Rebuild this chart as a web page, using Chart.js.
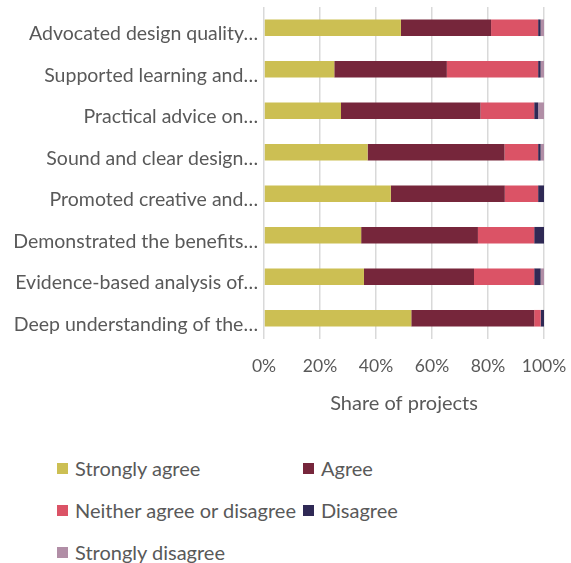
<!DOCTYPE html>
<html>
<head>
<meta charset="utf-8">
<script src="https://cdn.jsdelivr.net/npm/chart.js@4/dist/chart.umd.min.js"></script>
<style>
  html, body { margin: 0; padding: 0; background: #fff; }
  #wrap { position: relative; width: 571px; height: 563px; }
  #chartBox { position: absolute; left: 0; top: 0; width: 571px; height: 425px; }
  #legend {
    position: absolute; left: 57px; top: 456px;
    display: grid; grid-template-columns: 246px 200px; grid-auto-rows: 42px;
    font-family: Lato, "Open Sans", sans-serif; font-size: 20px; color: #595959;
  }
  #legend .item { display: flex; align-items: center; height: 24px; white-space: nowrap; }
  #legend .box { width: 11px; height: 11px; margin-right: 7px; flex: none; }
</style>
</head>
<body>
<div id="wrap">
  <div id="chartBox"><canvas id="surveyChart"></canvas></div>
  <div id="legend"></div>
</div>
<script>
(function () {
    const categories = [
        'Advocated design quality…',
        'Supported learning and…',
        'Practical advice on…',
        'Sound and clear design…',
        'Promoted creative and…',
        'Demonstrated the benefits…',
        'Evidence-based analysis of…',
        'Deep understanding of the…',
    ];

    // share of projects (%) per response
    const stronglyAgree = [48.9, 25.1, 27.5, 37.0, 45.3, 34.7, 35.7, 52.6];
    const agree = [32.2, 40.2, 49.8, 48.9, 40.7, 41.7, 39.3, 43.9];
    const neither = [16.8, 32.6, 19.2, 12.0, 11.9, 20.1, 21.5, 2.3];
    const disagree = [0.9, 0.9, 1.4, 0.9, 2.1, 3.5, 2.3, 1.2];
    const stronglyDisagree = [1.2, 1.2, 2.1, 1.2, 0, 0, 1.2, 0];

    const xTicks = [0, 20, 40, 60, 80, 100];

    const series = [
        { label: 'Strongly agree', data: stronglyAgree, color: '#CCBF53' },
        { label: 'Agree', data: agree, color: '#76263B' },
        { label: 'Neither agree or disagree', data: neither, color: '#DB5366' },
        { label: 'Disagree', data: disagree, color: '#2F2955' },
        { label: 'Strongly disagree', data: stronglyDisagree, color: '#B18EA6' },
    ];

    const textGrey = '#595959';
    const font = 'Lato, "Open Sans", sans-serif';

    const canvas = document.getElementById('surveyChart');
    new Chart(canvas, {
        type: 'bar',
        data: {
            labels: categories,
            datasets: series.map((s) => ({
                label: s.label,
                data: s.data,
                backgroundColor: s.color,
                borderWidth: 0,
                categoryPercentage: 1,
                barPercentage: 0.4,
            })),
        },
        options: {
            indexAxis: 'y',
            responsive: true,
            maintainAspectRatio: false,
            animation: false,
            layout: { padding: { left: 0, right: 27, top: 7, bottom: 0 } },
            plugins: {
                legend: { display: false },
                tooltip: { enabled: false },
            },
            scales: {
                x: {
                    stacked: true,
                    min: 0,
                    max: 100,
                    afterBuildTicks: (scale) => {
                        scale.ticks = xTicks.map((v) => ({ value: v }));
                    },
                    grid: { color: '#D9D9D9', lineWidth: 1.5, drawTicks: false },
                    border: { display: false },
                    ticks: {
                        padding: 17,
                        color: textGrey,
                        font: { family: font, size: 17.5 },
                        callback: (v) => v + '%',
                    },
                    title: {
                        display: true,
                        text: 'Share of projects',
                        color: textGrey,
                        font: { family: font, size: 20 },
                        padding: { top: 4, bottom: 9 },
                    },
                    afterFit: (scale) => {
                        scale.height = 425 - 339;
                        scale.paddingLeft = 0;
                        scale.paddingRight = 0;
                    },
                },
                y: {
                    stacked: true,
                    grid: { display: false, drawTicks: false },
                    border: { display: false },
                    ticks: {
                        padding: 6,
                        labelOffset: 6,
                        color: textGrey,
                        font: { family: font, size: 19.5 },
                    },
                    afterFit: (scale) => {
                        scale.width = 264;
                        scale.paddingTop = 0;
                        scale.paddingBottom = 0;
                    },
                },
            },
        },
    });

    // two-column legend under the chart
    const legendEl = document.getElementById('legend');
    series.forEach((s) => {
        const item = document.createElement('div');
        item.className = 'item';
        const box = document.createElement('span');
        box.className = 'box';
        box.style.background = s.color;
        const text = document.createElement('span');
        text.textContent = s.label;
        item.appendChild(box);
        item.appendChild(text);
        legendEl.appendChild(item);
    });
})();
</script>
</body>
</html>
